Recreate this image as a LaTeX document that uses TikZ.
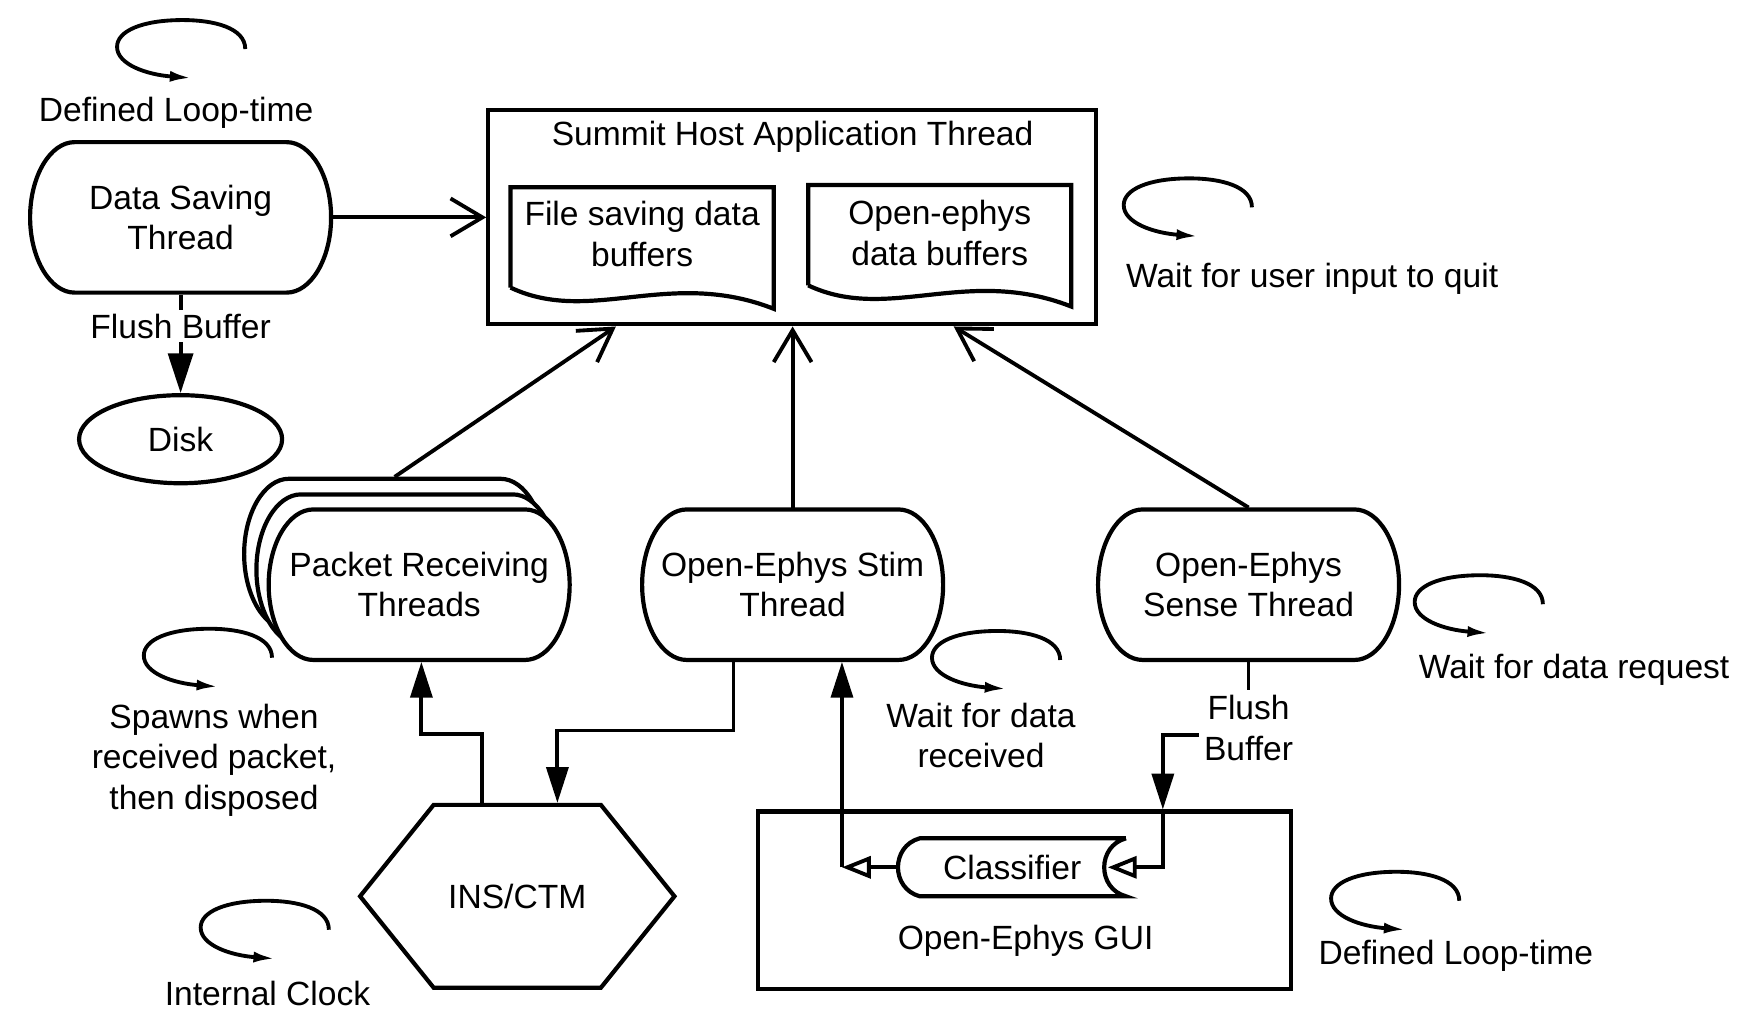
\documentclass[tikz,border=0pt]{standalone}
\usepackage{fontspec}
\setmainfont{Liberation Sans}
\usetikzlibrary{arrows.meta,calc,positioning,shapes.geometric}

\begin{document}
\begin{tikzpicture}[
    x=0.112mm, y=-0.112mm,
    font=\fontsize{9.6}{11.5}\selectfont,
    line width=1.1pt,
    thread/.style={minimum width=30.24mm, minimum height=15.12mm, inner sep=0pt, align=center},
    lbl/.style={inner sep=1pt, align=center},
    box/.style={draw, line width=1.2pt, inner sep=0pt},
    openarr/.style={-{Straight Barb[length=3.2mm,width=3.8mm]}},
    blk/.style={-{Triangle[length=3.6mm,width=2.2mm]}},
    hollow/.style={-{Triangle[open,length=2.9mm,width=2.2mm]}},
    threadshape/.pic={\draw[line width=1.2pt, fill=white] (-95,-67.5) -- (95,-67.5)
        .. controls (117,-67.5) and (135,-37) .. (135,0)
        .. controls (135,37) and (117,67.5) .. (95,67.5) -- (-95,67.5)
        .. controls (-117,67.5) and (-135,37) .. (-135,0)
        .. controls (-135,-37) and (-117,-67.5) .. (-95,-67.5) -- cycle;},
    docshape/.pic={\draw[line width=1.2pt] (0,90) -- (0,0) -- (236,0) -- (236,109)
        .. controls (142,72) and (72,124) .. (0,90);},
    cycleicon/.pic={\draw[line width=1.1pt, -{Latex[length=2.2mm,width=1.1mm]}] (48,-26)
        .. controls (48,-45) and (20,-52) .. (-8,-52)
        .. controls (-45,-52) and (-67,-42) .. (-67,-28)
        .. controls (-67,-12) and (-40,-3) .. (0,0);},
  ]
    \useasboundingbox (0,0) rectangle (1568,917);

    % Top left
    \pic at (162,195) {threadshape};
    \node[thread] (dsave) at (162,195) {Data Saving\\Thread};
    \node[draw, ellipse, line width=1.2pt, minimum width=20.4mm, minimum height=8.85mm, inner sep=0pt] (disk) at (162,394) {Disk};

    % Host application
    \node[box, minimum width=61.04mm, minimum height=21.5mm] (summit) at (710.5,195) {};
    \node[lbl] (title) at (711,123) {Summit Host Application Thread};
    \pic at (458,168) {docshape};
    \node[lbl] (fbuf) at (576,210) {File saving data\\buffers};
    \pic at (725,166) {docshape};
    \node[lbl] (obuf) at (843,209) {Open-ephys\\data buffers};

    % Threads
    \pic at (354,497) {threadshape};
    \pic at (365,511) {threadshape};
    \pic at (376,524.5) {threadshape};
    \node[thread] (pkback) at (354,497) {};
    \node[thread] (packet) at (376,524.5) {Packet Receiving\\Threads};
    \pic at (711,524.5) {threadshape};
    \node[thread] (stim) at (711,524.5) {Open-Ephys Stim\\Thread};
    \pic at (1120,524.5) {threadshape};
    \node[thread] (sense) at (1120,524.5) {Open-Ephys\\Sense Thread};

    % Bottom
    \draw[line width=1.2pt] (389,722) -- (539,722) -- (605,804) -- (539,886) -- (389,886) -- (323,804) -- cycle;
    \node[inner sep=0pt, minimum width=31.6mm, minimum height=18.37mm] (ins) at (464,804) {INS/CTM};
    \node[box, minimum width=53.54mm, minimum height=17.81mm] (gui) at (919,807.5) {};
    \node[lbl] (guilbl) at (920,844) {Open-Ephys GUI};
    \draw[line width=1.2pt] (1010,752) -- (825,752) .. controls (799,759) and (799,797) .. (825,804)
        -- (1010,804) .. controls (984,797) and (984,759) .. (1010,752);
    \node[inner sep=0pt, minimum width=22.85mm, minimum height=5.82mm] (clf) at (908,778) {Classifier};

    % Loop marks
    \foreach \p in {(172,70),(1075,212),(1336,568),(903,618),(196,616),(247,860),(1261,834)}
      \pic at \p {cycleicon};
    \node[lbl] (looptime) at (158,101) {Defined Loop-time};
    \node[lbl] (quit) at (1177,250) {Wait for user input to quit};
    \node[lbl] (request) at (1412,601) {Wait for data request};
    \node[lbl] (received) at (880,660) {Wait for data\\received};
    \node[lbl] (spawn) at (192,682) {Spawns when\\received packet,\\then disposed};
    \node[lbl] (clock) at (240,891) {Internal Clock};
    \node[lbl] (guitime) at (1306,857) {Defined Loop-time};
    \node[lbl] (flushb) at (1120,653) {Flush\\Buffer};

    % Arrows
    \draw[openarr] (dsave.east) -- (dsave.east -| summit.west);
    \draw[-{Triangle[length=4mm,width=2.5mm]}] (dsave.south) -- node[lbl, fill=white, pos=0.32] (flusha) {Flush Buffer} (disk.north);
    \draw[openarr] (pkback.north) -- ($(summit.south)+(-158,0)$);
    \draw[openarr] (stim.north) -- (stim.north |- summit.south);
    \draw[openarr] (sense.north) -- ($(summit.south)+(145,0)$);
    \draw[blk] ($(ins.north)+(-32,0)$) |- ($(packet.south)+(2,65)$) -- ($(packet.south)+(2,0)$);
    \draw[blk] ($(stim.south)+(-53,0)$) |- ($(ins.north)+(36,-65)$) -- ($(ins.north)+(36,0)$);
    \coordinate (gcorner) at ($(clf.west)+(-49,0)$);
    \draw[hollow] (clf.west) -- (gcorner);
    \draw[blk] (gcorner) -- (gcorner |- stim.south);
    \draw[line width=0.8pt] (sense.south) -- (flushb.north);
    \coordinate (gtop) at ($(gui.north west)+(365,0)$);
    \draw[blk] ($(flushb.west)+(0,6)$) -| (gtop);
    \draw[hollow] (gtop) |- ($(clf.east)+(-18,0)$);
\end{tikzpicture}
\end{document}
